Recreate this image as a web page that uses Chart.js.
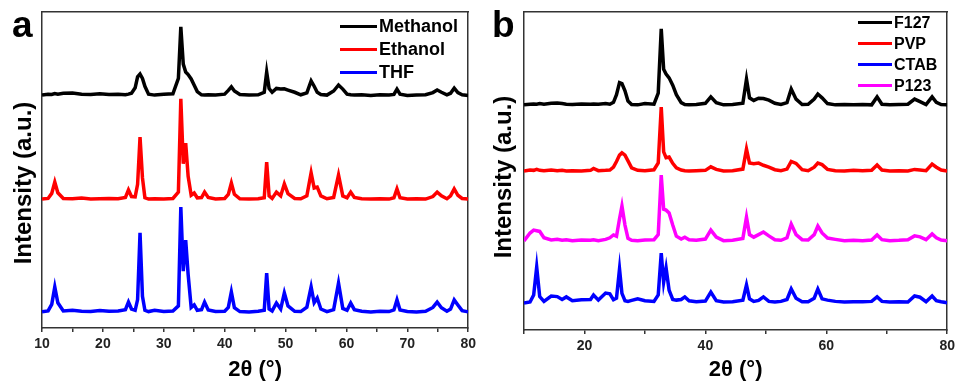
<!DOCTYPE html>
<html>
<head>
<meta charset="utf-8">
<title>XRD patterns</title>
<script src="https://cdn.jsdelivr.net/npm/chart.js@4.4.1/dist/chart.umd.min.js"></script>
<style>
    body { margin: 0; background: #fff; }
    #figure { position: relative; width: 959px; height: 386px; font-family: Arial, "Liberation Sans", sans-serif; color: #000; }
    #figure canvas { position: absolute; top: 0; }
    .letter { position: absolute; top: 6px; font-weight: bold; font-size: 37px; line-height: 1; }
    .ytitle { position: absolute; font-weight: bold; font-size: 24px; line-height: 1; white-space: nowrap; transform: translate(-50%, -50%) rotate(-90deg); }
    .legend { position: absolute; font-weight: bold; }
    .legend div { display: flex; align-items: center; }
    .legend .swatch { display: inline-block; height: 3px; margin-right: 2px; }
</style>
</head>
<body>
<div id="figure">
    <canvas id="chart-a" width="480" height="386" style="left:0"></canvas>
    <canvas id="chart-b" width="479" height="386" style="left:480px"></canvas>
    <div class="letter" style="left:12px">a</div>
    <div class="letter" style="left:492px">b</div>
    <div class="ytitle" style="left:23px; top:183px">Intensity (a.u.)</div>
    <div class="ytitle" style="left:503px; top:177px">Intensity (a.u.)</div>
    <div class="legend" id="legend-a" style="left:340px; top:15px; font-size:18px"></div>
    <div class="legend" id="legend-b" style="left:858px; top:12px; font-size:16px"></div>
</div>
<script>
// 2theta positions read for panel a (solvents)
const twoThetaA = [
    10, 11, 11.6, 12.1, 12.6, 13.5, 15, 16.5, 18, 19.5,
    21, 22.5, 23.7, 24.2, 24.7, 25.3, 25.7, 26.1, 26.5, 26.9,
    27.5, 28.5, 30, 31.5, 32.4, 32.8, 33.2, 33.6, 34, 34.5,
    35, 35.5, 36.2, 36.7, 37.3, 38.5, 40, 40.6, 41.1, 41.6,
    42.5, 44, 45.5, 46.5, 46.9, 47.3, 47.8, 48.5, 49.2, 49.8,
    50.4, 51.5, 52.5, 53.5, 54.2, 54.7, 55.2, 55.8, 56.8, 57.9,
    58.7, 59.4, 60.1, 60.7, 61.3, 62.5, 64, 65.5, 67, 67.8,
    68.3, 68.8, 70, 71.5, 73, 74.2, 74.9, 75.6, 76.5, 77.1,
    77.7, 78.3, 79, 80
];

// intensities (offset patterns, a.u.)
const methanol = [
    73.7, 74.0, 73.9, 74.2, 74.0, 74.3, 74.4, 74.0, 73.9, 74.1,
    73.9, 74.0, 73.8, 74.0, 74.3, 76.0, 79.5, 80.4, 79.0, 76.5,
    74.0, 73.7, 74.0, 74.1, 79.0, 95.3, 83.5, 81.0, 80.2, 78.8,
    76.8, 74.8, 73.8, 73.7, 73.8, 73.7, 74.0, 75.2, 76.3, 75.0,
    73.9, 73.7, 73.8, 74.6, 81.0, 75.8, 74.6, 75.8, 75.6, 75.7,
    75.3, 74.6, 73.8, 74.4, 78.2, 76.5, 74.6, 73.9, 73.7, 75.0,
    76.9, 75.6, 74.0, 73.8, 73.7, 73.8, 73.6, 73.8, 73.7, 73.9,
    75.6, 74.0, 73.6, 73.7, 73.8, 74.5, 75.3, 74.6, 73.8, 74.3,
    75.9, 74.5, 73.8, 73.6
];
const ethanol = [
    40.8, 41.0, 42.6, 46.2, 42.8, 41.0, 40.9, 41.1, 40.8, 40.9,
    41.0, 40.9, 41.3, 43.7, 41.6, 41.5, 45.5, 60.4, 47.5, 41.2,
    40.8, 40.9, 40.8, 41.0, 43.0, 72.5, 52.0, 58.5, 48.0, 42.0,
    42.7, 41.2, 41.3, 43.0, 41.3, 40.8, 41.0, 42.3, 45.9, 42.3,
    40.9, 40.8, 40.9, 41.2, 52.5, 41.8, 41.0, 43.0, 41.8, 45.6,
    42.5, 41.0, 40.9, 41.8, 49.1, 44.3, 44.6, 41.8, 40.9, 41.3,
    48.4, 41.8, 41.2, 43.0, 41.3, 40.9, 40.8, 40.9, 40.8, 41.2,
    44.0, 41.2, 40.8, 40.9, 40.8, 41.6, 43.0, 41.8, 40.9, 41.8,
    44.0, 42.0, 41.0, 40.8
];
const thf = [
    5.1, 5.4, 7.5, 13.0, 8.0, 5.4, 5.6, 5.3, 5.2, 5.5,
    5.3, 5.4, 5.8, 8.2, 6.0, 5.6, 9.0, 30.1, 10.0, 5.6,
    5.2, 5.6, 5.2, 5.4, 7.0, 38.3, 18.0, 27.8, 17.0, 6.5,
    7.3, 5.6, 5.8, 8.2, 5.7, 5.2, 5.3, 6.5, 11.4, 6.4,
    5.2, 5.1, 5.3, 5.6, 17.4, 6.0, 5.4, 7.9, 6.0, 11.1,
    7.0, 5.3, 5.2, 6.6, 13.0, 8.0, 9.5, 6.0, 5.2, 5.8,
    14.2, 6.2, 5.6, 7.9, 5.8, 5.3, 5.1, 5.3, 5.2, 5.7,
    8.9, 5.7, 5.2, 5.1, 5.3, 6.5, 8.2, 6.4, 5.3, 6.0,
    8.9, 7.3, 5.5, 5.1
];

// 2theta positions read for panel b (surfactants)
const twoThetaB = [
    10, 11, 11.6, 12.1, 12.6, 13.3, 14.5, 15.5, 16.3, 17,
    18, 19.5, 21, 21.5, 22.3, 23.5, 24.2, 24.8, 25.3, 25.8,
    26.2, 26.7, 27.2, 27.8, 28.8, 30, 31.5, 32.2, 32.7, 33.1,
    33.5, 34, 34.6, 35.2, 36, 36.6, 37.3, 38.5, 40, 40.9,
    41.8, 43, 44.5, 46.2, 46.8, 47.3, 48, 48.8, 49.6, 50.5,
    51.5, 52.5, 53.5, 54.2, 55, 56, 57, 58, 58.6, 59.3,
    60.2, 61.5, 63, 64.5, 66, 67.5, 68.4, 69.2, 70.5, 72,
    73.5, 74.6, 75.5, 76.5, 77.5, 78.2, 79, 80
];

const f127 = [
    70.8, 71.0, 71.1, 71.0, 71.2, 71.0, 71.3, 71.4, 71.2, 71.0,
    70.9, 71.1, 71.0, 71.1, 71.0, 71.2, 71.0, 71.6, 74.0, 77.8,
    77.5, 75.2, 72.0, 70.9, 70.8, 71.2, 71.0, 74.5, 94.7, 82.0,
    80.5, 79.3, 77.0, 74.0, 71.5, 70.9, 70.8, 70.9, 71.3, 73.3,
    71.5, 70.8, 70.9, 71.3, 78.9, 73.0, 72.2, 72.9, 72.8, 72.3,
    71.3, 70.9, 71.5, 75.8, 72.6, 70.9, 71.0, 72.6, 74.2, 73.0,
    71.2, 70.8, 70.9, 70.8, 70.9, 70.8, 73.3, 71.0, 70.8, 70.9,
    71.0, 72.6, 71.8, 70.9, 73.3, 71.6, 70.9, 70.8
];
const pvp = [
    50.0, 50.3, 50.2, 50.5, 50.2, 50.1, 50.3, 50.1, 50.2, 50.0,
    50.1, 50.0, 50.2, 50.8, 50.1, 50.2, 50.3, 51.2, 53.0, 55.0,
    55.7, 55.0, 53.2, 51.0, 50.2, 50.1, 50.4, 52.5, 70.1, 56.0,
    54.2, 54.4, 52.4, 51.0, 50.3, 50.1, 50.0, 50.1, 50.2, 51.3,
    50.5, 50.0, 50.1, 50.6, 56.9, 52.5, 52.3, 52.5, 51.8, 51.2,
    50.4, 50.1, 50.6, 53.0, 52.4, 50.4, 50.1, 51.2, 52.5, 52.0,
    50.5, 50.1, 50.0, 50.2, 50.1, 50.2, 51.9, 50.3, 50.0, 50.1,
    50.0, 50.5, 50.3, 50.1, 52.2, 51.2, 50.3, 50.0
];
const ctab = [
    8.5, 8.8, 11.0, 19.8, 10.5, 9.0, 10.7, 10.5, 9.6, 10.4,
    9.2, 9.5, 9.6, 11.0, 9.4, 11.6, 11.4, 9.5, 10.0, 19.2,
    11.5, 9.2, 9.0, 9.3, 9.8, 9.2, 9.0, 11.0, 24.2, 15.0,
    19.5, 12.5, 9.6, 9.4, 9.6, 10.4, 9.2, 8.9, 9.1, 11.9,
    9.2, 8.8, 8.9, 9.4, 14.2, 9.8, 9.0, 9.3, 10.4, 9.0,
    8.8, 9.0, 9.6, 12.9, 10.0, 8.9, 8.9, 10.0, 12.9, 9.8,
    9.4, 9.0, 8.8, 8.9, 8.9, 9.0, 10.4, 9.0, 8.8, 8.9,
    8.8, 10.7, 10.3, 8.9, 10.7, 9.2, 8.9, 8.6
];
const p123 = [
    28.0, 30.5, 31.4, 31.2, 31.0, 29.0, 28.3, 28.5, 28.2, 28.4,
    28.1, 28.3, 28.2, 28.4, 28.1, 28.5, 29.0, 29.9, 29.5, 35.0,
    39.0, 33.0, 28.8, 28.2, 28.1, 28.3, 28.4, 30.0, 48.7, 38.0,
    37.7, 36.8, 33.0, 29.5, 28.6, 29.2, 28.4, 28.2, 28.6, 31.4,
    29.2, 28.1, 28.2, 28.8, 35.5, 30.0, 29.2, 30.0, 30.8, 29.6,
    28.4, 28.2, 29.0, 33.3, 30.0, 28.4, 28.3, 30.0, 32.7, 30.5,
    28.9, 28.5, 28.1, 28.2, 28.1, 28.3, 29.9, 28.4, 28.1, 28.2,
    28.4, 29.6, 29.3, 28.4, 30.2, 29.0, 28.3, 28.1
];

const xTicksA = [10, 20, 30, 40, 50, 60, 70, 80];
const xTicksB = [20, 40, 60, 80];

function buildPanel(canvasId, twoTheta, series, layout) {
    const ink = '#333';
    const datasets = series.map(s => ({
        label: s.label,
        data: twoTheta.map((x, i) => ({ x: x, y: s.values[i] })),
        borderColor: s.color,
        backgroundColor: s.color,
        borderWidth: 3.5,
        pointRadius: 0,
        tension: 0,
        fill: false,
    }));

    const frame = (position) => ({
        position: position,
        type: 'linear',
        min: 0,
        max: 1,
        ticks: { display: false },
        grid: { display: false },
        border: { display: true, color: ink, width: 1.5 },
        afterFit: (scale) => {
            if (position === 'top') scale.height = 0;
            else scale.width = 0;
        },
    });

    return new Chart(document.getElementById(canvasId), {
        type: 'line',
        data: { datasets: datasets },
        options: {
            responsive: false,
            animation: false,
            layout: { padding: { top: 12, right: layout.right, left: 0, bottom: 0 } },
            plugins: {
                legend: { display: false },
                tooltip: { enabled: false },
            },
            scales: {
                x: {
                    type: 'linear',
                    min: 10,
                    max: 80,
                    ticks: {
                        stepSize: layout.step,
                        autoSkip: false,
                        maxRotation: 0,
                        padding: 4,
                        color: '#222',
                        font: { family: 'Arial', size: 14, weight: 'bold' },
                        callback: (v) => layout.labels.includes(v) ? String(v) : '',
                    },
                    grid: {
                        display: true,
                        drawOnChartArea: false,
                        drawTicks: true,
                        tickLength: 4,
                        color: ink,
                        lineWidth: 1.5,
                    },
                    border: { display: true, color: ink, width: 1.5 },
                    title: {
                        display: true,
                        text: '2θ (°)',
                        color: '#000',
                        font: { family: 'Arial', size: 22, weight: 'bold' },
                        padding: { top: 0, bottom: 3 },
                    },
                    afterFit: (scale) => { scale.height = layout.bottom; },
                },
                y: {
                    type: 'linear',
                    min: 0,
                    max: 100,
                    ticks: { display: false },
                    grid: { display: false },
                    border: { display: true, color: ink, width: 1.5 },
                    afterFit: (scale) => { scale.width = layout.left; },
                },
                xTop: frame('top'),
                yRight: frame('right'),
            },
        },
    });
}

function buildLegend(chart, id, swatchWidth, rowHeight) {
    const box = document.getElementById(id);
    chart.data.datasets.forEach((ds) => {
        const row = document.createElement('div');
        row.style.height = rowHeight + 'px';
        const swatch = document.createElement('span');
        swatch.className = 'swatch';
        swatch.style.width = swatchWidth + 'px';
        swatch.style.background = ds.borderColor;
        const text = document.createElement('span');
        text.textContent = ds.label;
        row.append(swatch, text);
        box.append(row);
    });
}

const chartA = buildPanel('chart-a', twoThetaA, [
    { label: 'Methanol', values: methanol, color: '#000000' },
    { label: 'Ethanol', values: ethanol, color: '#ff0000' },
    { label: 'THF', values: thf, color: '#0000ff' },
], { left: 42, right: 11, bottom: 58, step: 5, labels: xTicksA });

// legend order in the figure: F127, PVP, CTAB, P123
const chartB = buildPanel('chart-b', twoThetaB, [
    { label: 'F127', values: f127, color: '#000000' },
    { label: 'PVP', values: pvp, color: '#ff0000' },
    { label: 'CTAB', values: ctab, color: '#0000ff' },
    { label: 'P123', values: p123, color: '#ff00ff' },
], { left: 44, right: 9, bottom: 56, step: 10, labels: xTicksB });

buildLegend(chartA, 'legend-a', 37, 23);
buildLegend(chartB, 'legend-b', 34, 21);
</script>
</body>
</html>
